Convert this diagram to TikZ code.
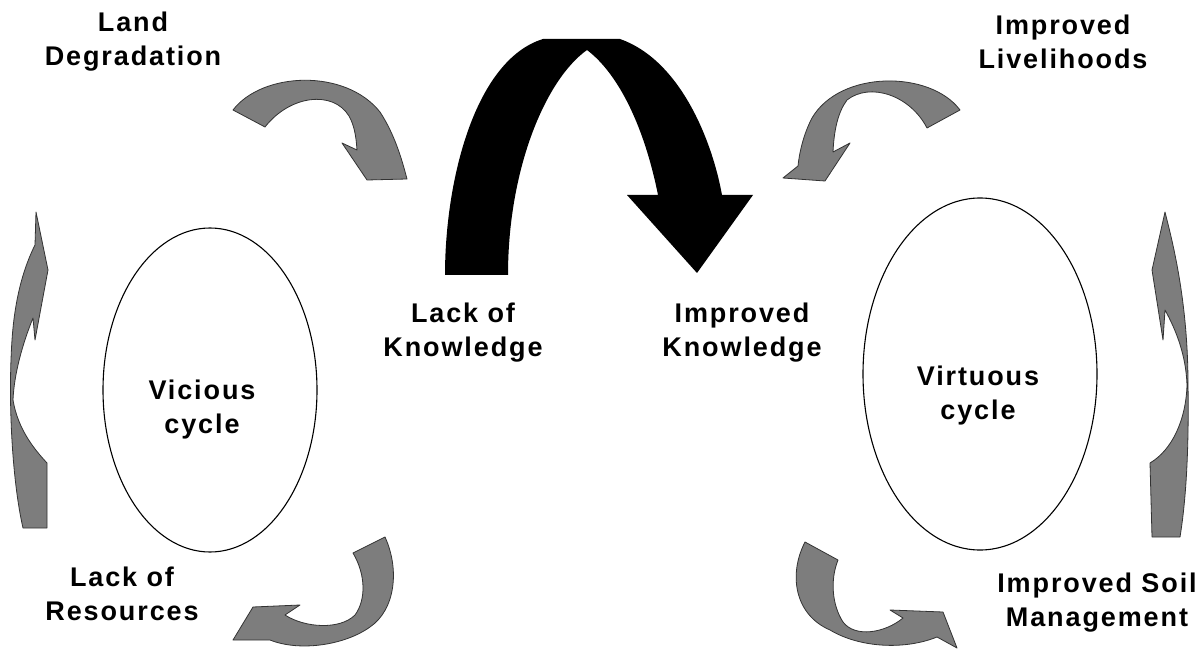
\documentclass[tikz,border=0pt]{standalone}
\usepackage{fontspec}
\newfontfamily\labelfont[LetterSpace=7]{Liberation Sans}
\definecolor{arrowgray}{RGB}{125,125,125}
\tikzset{
    label/.style={align=center, inner sep=0pt, font=\labelfont\bfseries\fontsize{27}{34}\selectfont},
    blockarrow/.style={fill=arrowgray, draw=black!80, line width=0.8pt, line join=round},
    cycleline/.style={draw=black, line width=1.1pt}
}
\begin{document}
\begin{tikzpicture}[x=1pt, y=-1pt]
    \useasboundingbox (0,0) rectangle (1204,652);
    \draw[cycleline] (210,390) ellipse [x radius=107, y radius=162];
    \draw[cycleline] (980,374) ellipse [x radius=117, y radius=176];
    \node[label] (land) at (133,42) {Land\\Degradation};
    \node[label] (livelihoods) at (1063,42) {Improved\\Livelihoods};
    \node[label] (lackknow) at (463,333) {Lack of\\Knowledge};
    \node[label] (impknow) at (742,333) {Improved\\Knowledge};
    \node[label] (vicious) at (202,410) {Vicious\\cycle};
    \node[label] (virtuous) at (978,396) {Virtuous\\cycle};
    \node[label] (lackres) at (122,594) {Lack of\\Resources};
    \node[label] (soil) at (1097,603) {Improved Soil\\Management};
    \fill (445,275) .. controls (445,180) and (475,60) .. (543,39) -- (620,39)
        .. controls (680,60) and (712,140) .. (722,195) -- (753,195) -- (697,273)
        -- (627,195) -- (658,195) .. controls (645,130) and (620,75) .. (587,50)
        .. controls (545,80) and (508,170) .. (508,275) -- cycle;
    \draw[blockarrow] (233,110) .. controls (262,72) and (345,68) .. (380,112)
        .. controls (395,135) and (402,160) .. (407,179) -- (367,180) -- (342,143) -- (357,150)
        .. controls (356,135) and (354,125) .. (349,116) .. controls (333,90) and (290,95) .. (265,127) -- cycle;
    \draw[blockarrow] (960,110) .. controls (930,70) and (840,70) .. (812,118)
        .. controls (803,135) and (799,155) .. (798,166) -- (783,178) -- (825,181) -- (850,143) -- (833,152)
        .. controls (834,130) and (838,112) .. (847,100) .. controls (870,82) and (910,95) .. (927,128) -- cycle;
    \draw[blockarrow] (385,537) .. controls (400,570) and (395,610) .. (370,627)
        .. controls (345,645) and (300,652) .. (270,640) -- (233,640) -- (253,607) -- (300,605) -- (285,615)
        .. controls (305,628) and (340,630) .. (355,615) .. controls (366,600) and (366,575) .. (353,553) -- cycle;
    \draw[blockarrow] (805,542) .. controls (788,575) and (795,615) .. (830,630)
        .. controls (860,648) and (905,650) .. (937,637) -- (957,648) -- (943,612) -- (890,610) -- (903,618)
        .. controls (885,633) and (855,638) .. (843,622) .. controls (832,605) and (830,580) .. (838,560) -- cycle;
    \draw[blockarrow] (36,212) -- (48,270) -- (35,340) -- (33,318)
        .. controls (22,345) and (14,375) .. (13,400) .. controls (18,430) and (35,450) .. (47,463)
        -- (47,528) -- (23,528) .. controls (12,480) and (8,400) .. (12,340)
        .. controls (15,295) and (25,265) .. (35,245) -- cycle;
    \draw[blockarrow] (1165,212) .. controls (1172,240) and (1188,300) .. (1188,385)
        .. controls (1189,450) and (1186,500) .. (1180,537) -- (1152,537) -- (1150,463)
        .. controls (1172,450) and (1186,420) .. (1187,385) .. controls (1186,355) and (1176,330) .. (1165,310)
        -- (1163,340) -- (1152,270) -- cycle;
\end{tikzpicture}
\end{document}
